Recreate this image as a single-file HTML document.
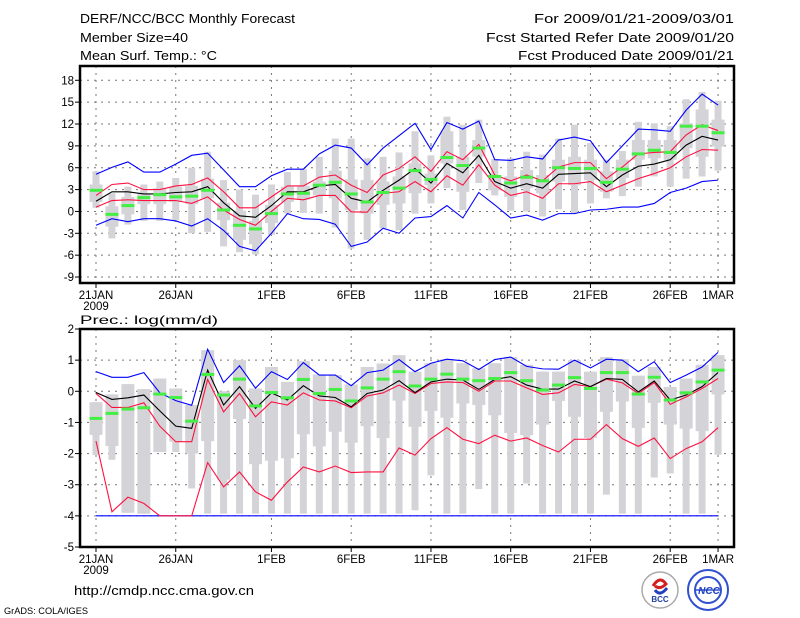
<!DOCTYPE html>
<html><head><meta charset="utf-8">
<style>
html,body{margin:0;padding:0;background:#fff;}
svg{display:block;font-family:"Liberation Sans",sans-serif;}
.t{font-size:13px;fill:#000;}
.tk{font-size:11.5px;fill:#000;}
</style></head>
<body>
<svg id="chart" width="800" height="618" viewBox="0 0 800 618" xmlns="http://www.w3.org/2000/svg">
<rect width="800" height="618" fill="#fff"/>
<text class="t" x="80" y="23" textLength="215" lengthAdjust="spacingAndGlyphs">DERF/NCC/BCC Monthly Forecast</text>
<text class="t" x="80" y="42" textLength="108" lengthAdjust="spacingAndGlyphs">Member Size=40</text>
<text class="t" x="80" y="60" textLength="137" lengthAdjust="spacingAndGlyphs">Mean Surf. Temp.: °C</text>
<text class="t" x="734" y="23" text-anchor="end" textLength="200" lengthAdjust="spacingAndGlyphs">For 2009/01/21-2009/03/01</text>
<text class="t" x="734" y="42" text-anchor="end" textLength="248" lengthAdjust="spacingAndGlyphs">Fcst Started Refer Date 2009/01/20</text>
<text class="t" x="734" y="60" text-anchor="end" textLength="216" lengthAdjust="spacingAndGlyphs">Fcst Produced Date 2009/01/21</text>
<text class="t" x="80" y="324" textLength="138" lengthAdjust="spacingAndGlyphs" style="font-size:12px">Prec.: log(mm/d)</text>
<g id="top"></g>
<g id="bot"></g>
<text class="t" x="74" y="595" textLength="180" lengthAdjust="spacingAndGlyphs">http://cmdp.ncc.cma.gov.cn</text>
<text x="4" y="614" style="font-size:9px" textLength="84" lengthAdjust="spacingAndGlyphs">GrADS: COLA/IGES</text>
<g>
<circle cx="660" cy="590" r="18" fill="#fff" stroke="#aaa" stroke-width="1.5"/>
<path d="M653 586 q7 -11 13 -2 q-6 6 -11 2" fill="none" stroke="#d02020" stroke-width="3"/>
<path d="M655 590 q5 7 12 -2" fill="none" stroke="#2040c0" stroke-width="3"/>
<text x="660" y="602" text-anchor="middle" style="font-size:8px;font-weight:bold;fill:#2040a0">BCC</text>
</g>
<g>
<circle cx="708" cy="590" r="20" fill="#fff" stroke="#3050d0" stroke-width="2"/>
<circle cx="708" cy="590" r="13" fill="none" stroke="#3050d0" stroke-width="2"/>
<line x1="695" y1="590" x2="721" y2="590" stroke="#3050d0" stroke-width="1.5"/>
<text x="709" y="594" text-anchor="middle" style="font-size:10px;font-weight:bold;font-style:italic;fill:#2040c0">NCC</text>
</g>
</svg>
<script>
// ---- Temperature panel data ----
const tXLabels=["21JAN","26JAN","1FEB","6FEB","11FEB","16FEB","21FEB","26FEB","1MAR"];
const tXIdx=[0,5,11,16,21,26,31,36,39];
const tYTicks=[-9,-6,-3,0,3,6,9,12,15,18];
const tBlueHi=[5.1,6.05,6.8,5.4,5.4,6.5,7.7,8.0,5.7,3.4,3.4,4.9,5.8,5.8,7.9,9.1,8.7,6.4,8.7,10.4,12.1,8.5,12.2,11.3,12.4,7.1,7.0,7.5,7.2,9.8,10.2,9.7,6.7,9.0,11.3,11.2,11.0,13.9,16.1,14.6];
const tBlueLo=[-1.9,-1.0,-1.4,-1.0,-1.0,-1.3,-2.0,-1.0,-2.6,-4.8,-5.4,-3.0,-0.3,-1.0,-1.1,-1.75,-4.8,-4.2,-2.3,-3.0,-0.9,-0.7,0.8,-0.9,2.6,0.9,-0.9,-0.5,-1.2,-0.3,-0.3,0.2,0.3,0.6,0.6,1.1,2.6,3.2,4.1,4.3];
const tRedHi=[2.2,3.7,3.9,3.0,3.0,3.5,3.7,4.6,2.7,0.5,0.5,2.0,3.5,3.5,4.7,5.0,3.6,2.6,5.0,5.9,7.5,5.5,8.2,7.1,9.2,5.0,4.2,5.0,4.2,6.1,6.7,6.7,4.5,6.1,7.9,8.1,8.2,10.5,11.9,11.1];
const tRedLo=[0.6,1.5,1.6,1.5,1.5,1.5,1.1,2.0,0.2,-1.1,-1.9,0.0,1.8,1.6,2.2,2.2,-0.05,-0.1,2.5,2.7,4.1,2.7,4.9,3.6,6.4,3.6,2.2,2.7,1.8,3.8,3.8,4.1,2.7,3.6,4.5,5.2,6.0,7.5,8.5,8.4];
const tMean=[1.4,2.7,2.7,2.4,2.4,2.6,2.7,3.4,1.2,-0.6,-0.8,0.8,2.7,2.7,3.5,3.7,1.8,1.3,2.9,4.3,5.9,3.9,6.6,5.3,7.7,4.1,3.2,3.8,3.2,5.1,5.2,5.3,3.4,5.0,6.2,6.5,7.1,9.1,10.3,9.8];
const tObs=[2.9,-0.4,0.8,1.9,2.3,2.0,2.1,2.9,0.2,-1.9,-2.4,-0.3,2.4,2.5,3.6,4.0,2.4,1.3,2.6,3.2,5.6,4.4,7.4,6.3,8.7,4.8,3.9,4.7,4.2,6.0,5.9,5.9,4.0,5.8,7.9,8.4,8.1,11.7,11.7,10.8];
const tMax=[5.5,2.5,3.4,3.7,4.1,4.6,6.0,8.2,4.3,3.0,2.3,3.7,5.4,5.8,7.5,10.0,10.0,7.3,7.5,8.1,11.0,7.7,13.0,11.9,12.6,7.2,7.3,8.2,7.8,10.0,11.9,9.4,7.1,8.3,12.3,12.1,11.7,15.4,16.4,15.2];
const tMin=[0.5,-3.7,-1.8,-1.3,-1.3,-1.2,-3.0,-2.8,-4.8,-5.6,-5.9,-3.2,-0.3,-0.2,-0.3,-2.2,-5.1,-3.9,-2.3,-2.6,-0.3,1.1,3.2,0.2,3.9,2.2,0.1,0.0,-0.7,0.3,-0.3,1.1,1.8,2.1,3.4,4.8,3.4,4.5,4.8,5.6];
const tQ3=[3.7,0.7,2.0,2.5,3.2,3.4,3.5,4.5,1.2,0.1,-1.3,0.9,3.4,3.5,4.1,5.6,4.4,4.3,4.1,4.8,6.6,5.2,11.0,7.5,9.8,5.0,4.8,5.7,5.0,7.1,7.5,7.1,5.5,7.1,9.8,9.8,9.8,12.1,14.0,12.6];
const tQ1=[1.3,-2.1,-0.4,1.0,1.0,1.3,1.0,1.8,-1.2,-3.9,-4.5,-1.6,1.3,1.6,2.2,1.8,0.2,-0.3,0.9,1.1,2.5,3.6,6.6,2.7,7.5,2.9,2.0,3.2,2.5,4.1,3.6,4.3,2.7,4.6,7.1,7.3,7.1,8.7,7.5,8.9];
// ---- Precipitation panel data ----
const pXLabels=tXLabels;
const pXIdx=tXIdx;
const pYTicks=[-5,-4,-3,-2,-1,0,1,2];
const pBlueHi=[0.63,0.45,0.45,0.6,-0.05,-0.3,-0.45,1.35,0.28,0.82,0.1,0.63,0.38,0.92,0.52,0.52,0.18,0.6,0.68,1.02,0.63,0.9,1.03,0.98,0.7,1.02,1.1,0.8,0.72,0.71,1.0,0.75,1.03,1.0,0.63,0.95,0.28,0.52,0.78,1.25];
const pBlueLo=[-4,-4,-4,-4,-4,-4,-4,-4,-4,-4,-4,-4,-4,-4,-4,-4,-4,-4,-4,-4,-4,-4,-4,-4,-4,-4,-4,-4,-4,-4,-4,-4,-4,-4,-4,-4,-4,-4,-4,-4];
const pRedHi=[-0.07,-0.52,-0.52,-0.37,-1.12,-1.62,-1.62,0.38,-0.66,-0.07,-0.82,-0.34,-0.44,-0.05,-0.28,-0.31,-0.53,-0.15,-0.05,0.2,-0.07,0.25,0.3,0.28,0.0,0.33,0.33,0.11,-0.1,-0.05,0.22,0.15,0.39,0.27,-0.07,0.28,-0.42,-0.18,0.09,0.41];
const pRedLo=[-1.6,-3.87,-3.4,-3.6,-4,-4,-4,-2.29,-3.07,-2.59,-3.23,-3.5,-2.91,-2.43,-2.59,-2.4,-2.61,-2.59,-2.59,-1.82,-2.05,-1.52,-1.17,-1.54,-1.68,-1.41,-1.6,-1.5,-1.74,-1.95,-1.54,-1.54,-1.07,-1.52,-1.77,-1.5,-2.16,-1.84,-1.62,-1.17];
const pMean=[-0.04,-0.26,-0.21,-0.12,-0.63,-1.12,-1.19,0.68,-0.44,0.15,-0.55,-0.05,-0.28,0.18,-0.15,-0.2,-0.5,-0.07,0.04,0.34,-0.04,0.3,0.39,0.36,0.06,0.38,0.47,0.2,0.07,0.07,0.33,0.15,0.41,0.38,-0.02,0.33,-0.28,-0.12,0.15,0.6];
const pObs=[-0.87,-0.71,-0.57,-0.53,-0.09,-0.2,-0.96,0.54,-0.12,0.39,-0.47,-0.04,-0.21,0.38,-0.07,0.06,-0.31,0.11,0.39,0.63,0.17,0.39,0.55,0.39,0.34,0.41,0.6,0.34,0.04,0.2,0.44,0.09,0.6,0.6,-0.09,0.45,-0.28,-0.05,0.3,0.68];
const pMax=[-0.35,-0.1,0.23,0.07,0.41,0.09,-0.44,1.32,0.0,1.0,0.09,0.78,0.3,0.97,0.54,0.52,0.22,0.78,0.89,1.16,0.63,0.9,1.03,0.9,0.74,0.9,1.1,0.85,0.63,0.63,1.0,0.63,1.1,1.03,0.5,0.78,0.14,0.41,0.85,1.16];
const pMin=[-2.05,-2.2,-3.9,-3.93,-1.95,-1.95,-3.12,-3.93,-3.93,-3.93,-3.93,-3.93,-3.93,-3.93,-3.93,-3.93,-3.93,-3.93,-3.93,-3.93,-3.82,-2.7,-3.93,-3.93,-3.14,-3.93,-3.93,-2.96,-3.93,-3.93,-3.93,-3.93,-3.32,-3.93,-3.93,-2.77,-2.64,-3.93,-3.93,-2.04];
const pQ3=pMax;
const pQ1=[-1.4,-1.76,-3.9,-3.93,-1.95,-1.62,-2.0,-1.6,-2.84,-0.89,-2.34,-2.23,-2.15,-1.38,-1.77,-1.3,-1.65,-1.12,-1.5,-0.3,-1.14,-0.63,-0.85,-0.39,-0.44,-0.77,-1.34,-1.41,-1.07,-0.31,-0.82,-1.5,-0.66,-0.33,-1.18,-0.37,-1.07,-1.2,-1.28,-0.1];

const NS="http://www.w3.org/2000/svg";
function mk(tag,attrs,parent){const e=document.createElementNS(NS,tag);for(const k in attrs)e.setAttribute(k,attrs[k]);parent.appendChild(e);return e;}
const X0=80,X1=734,D0=96,DW=15.95;
function xs(i){return D0+i*DW;}

function panel(g,top,bot,vmin,vmax,yTicks,xLabels,xIdx,d){
  const ys=v=>bot-(v-vmin)/(vmax-vmin)*(bot-top);
  yTicks.forEach(v=>{
    if(ys(v)<=top+1||ys(v)>=bot-1)return;
    const l=mk('line',{x1:X0,x2:X1,y1:ys(v),y2:ys(v),stroke:'#777','stroke-dasharray':'2,5','stroke-width':1},g);
    
    
  });
  xIdx.forEach(i=>{
    const l=mk('line',{x1:xs(i),x2:xs(i),y1:top,y2:bot,stroke:'#777','stroke-dasharray':'2,5','stroke-width':1},g);
    
    
  });
  for(let i=0;i<d.max.length;i++){
    const x=xs(i);
    const r1=mk('rect',{x:x-3.5,y:ys(d.max[i]),width:7,height:Math.max(1,ys(d.min[i])-ys(d.max[i])),fill:'#d4d4d8'},g);
    
    
    const r2=mk('rect',{x:x-6.5,y:ys(d.q3[i]),width:13,height:Math.max(1,ys(d.q1[i])-ys(d.q3[i])),fill:'#d4d4d8'},g);
    
    
  }
  const series=[[d.blueLo,'#0000ff','blue-lower-line'],[d.blueHi,'#0000ff','blue-upper-line'],[d.redLo,'#ff1040','red-lower-line'],[d.redHi,'#ff1040','red-upper-line'],[d.mean,'#000','ensemble-mean-line']];
  series.forEach(([arr,c,nm])=>{
    const p=mk('polyline',{points:arr.map((v,i)=>xs(i)+','+ys(v)).join(' '),fill:'none',stroke:c,'stroke-width':1.1},g);
    
    
  });
  d.obs.forEach((v,i)=>{
    const r=mk('rect',{x:xs(i)-6.5,y:ys(v)-1.5,width:13,height:3,fill:'#44ee44'},g);
    
    
  });
  const f=mk('rect',{x:X0,y:top,width:X1-X0,height:bot-top,fill:'none',stroke:'#000','stroke-width':2.5},g);
  
  
  yTicks.forEach(v=>{
    mk('line',{x1:X0-5,x2:X0,y1:ys(v),y2:ys(v),stroke:'#000','stroke-width':1},g);
    const t=mk('text',{x:X0-6,y:ys(v)+4,'text-anchor':'end','class':'tk'},g);
    t.textContent=String(v);
    
    
  });
  xIdx.forEach((i,k)=>{
    mk('line',{x1:xs(i),x2:xs(i),y1:bot,y2:bot+5,stroke:'#000','stroke-width':1},g);
    const t=mk('text',{x:xs(i),y:bot+16,'text-anchor':'middle','class':'tk'},g);
    t.textContent=xLabels[k];
    
    
  });
  const yr=mk('text',{x:xs(0),y:bot+27,'text-anchor':'middle','class':'tk'},g);
  yr.textContent='2009';
  
  
}
panel(document.getElementById('top'),66,283,-9.82,19.96,tYTicks,tXLabels,tXIdx,
 {blueHi:tBlueHi,blueLo:tBlueLo,redHi:tRedHi,redLo:tRedLo,mean:tMean,obs:tObs,max:tMax,min:tMin,q3:tQ3,q1:tQ1});
panel(document.getElementById('bot'),329,547,-5,2,pYTicks,pXLabels,pXIdx,
 {blueHi:pBlueHi,blueLo:pBlueLo,redHi:pRedHi,redLo:pRedLo,mean:pMean,obs:pObs,max:pMax,min:pMin,q3:pQ3,q1:pQ1});
</script>
</body></html>
